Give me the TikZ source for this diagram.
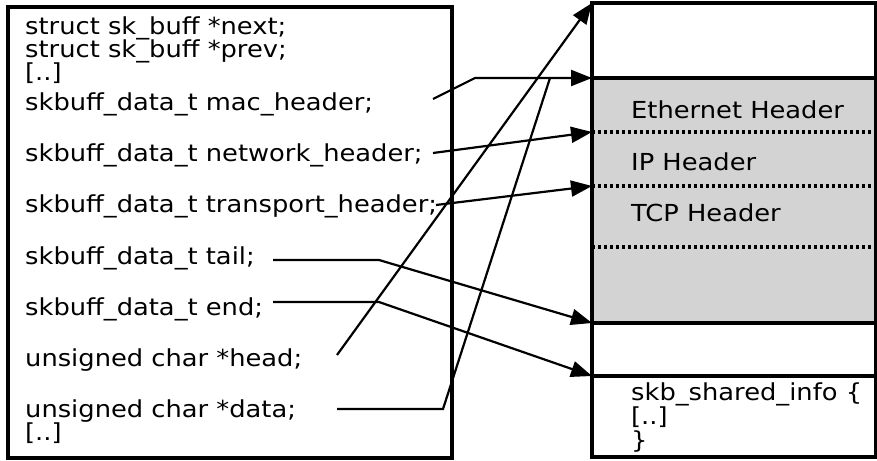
\documentclass[tikz,border=0pt]{standalone}
\usepackage{fontspec}
\setmainfont{DejaVu Sans}[FakeStretch=1.1]
\usetikzlibrary{arrows.meta,positioning,calc}
\definecolor{hdrgray}{HTML}{D3D3D3}
\tikzset{
  field/.style={anchor=base west, inner sep=0pt, font=\fontsize{23.4}{23.4}\selectfont},
  box/.style={draw=black, line width=3.2pt},
  sep/.style={draw=black, line width=3.2pt, dash pattern=on 3pt off 3pt},
  wire/.style={line width=2.2pt},
  link/.style={line width=2.2pt, -{Triangle[length=21pt,width=16pt]}}
}
\begin{document}
\begin{tikzpicture}[x=1pt,y=-1pt]
	\useasboundingbox (0,0) rectangle (877,460);

	% data buffer
	\fill[hdrgray] (592,78) rectangle (876,323);
	\draw[box] (592,3) rectangle (875.5,457);
	\draw[box] (592,78) -- (876,78);
	\draw[sep] (592,132) -- (876,132);
	\draw[sep] (592,186) -- (876,186);
	\draw[sep] (592,247) -- (876,247);
	\draw[box] (592,323) -- (876,323);
	\draw[box] (592,376) -- (876,376);

	\node[field] (eth) at (631,118) {Ethernet Header};
	\node[field] (ip) at (631,170) {IP Header};
	\node[field] (tcp) at (631,221) {TCP Header};
	\node[field] (shinfo) at (631,400) {skb\_shared\_info \{};
	\node[field] (shdots) at (631,424) {[..]};
	\node[field] (shclose) at (631,448) {\}};

	\coordinate (bufhead) at (592,3);
	\coordinate (bufeth) at (592,78);
	\coordinate (bufip) at (592,132);
	\coordinate (buftcp) at (592,186);
	\coordinate (buftail) at (592,323);
	\coordinate (bufend) at (592,376);

	% sk_buff struct
	\draw[box] (8,7) rectangle (452,458);
	\node[field] (next) at (25,35) {struct sk\_buff *next;};
	\node[field] (prev) at (25,58) {struct sk\_buff *prev;};
	\node[field] (skip) at (25,81) {[..]};
	\node[field] (mac) at (25,110) {skbuff\_data\_t mac\_header;};
	\node[field] (net) at (25,161) {skbuff\_data\_t network\_header;};
	\node[field] (trans) at (25,212) {skbuff\_data\_t transport\_header;};
	\node[field] (tail) at (25,264) {skbuff\_data\_t tail;};
	\node[field] (endp) at (25,315) {skbuff\_data\_t end;};
	\node[field] (head) at (25,366) {unsigned char *head;};
	\node[field] (data) at (25,417) {unsigned char *data;};
	\node[field] (skiptwo) at (25,440) {[..]};

	\coordinate (macfrom) at (433,99);
	\coordinate (macbend) at (475,78);
	\coordinate (datajoin) at (550,78);
	\coordinate (netfrom) at (433,153);
	\coordinate (transfrom) at (436,205);
	\coordinate (tailfrom) at (273,260);
	\coordinate (tailbend) at (379,260);
	\coordinate (endfrom) at (273,302);
	\coordinate (endbend) at (379,302);
	\coordinate (headfrom) at (337,355);
	\coordinate (datafrom) at (337,409);
	\coordinate (databend) at (443,409);

	\draw[link] (macfrom) -- (macbend) -- (bufeth);
	\draw[link] (netfrom) -- (bufip);
	\draw[link] (transfrom) -- (buftcp);
	\draw[link] (tailfrom) -- (tailbend) -- (buftail);
	\draw[link] (endfrom) -- (endbend) -- (bufend);
	\draw[link] (headfrom) -- (bufhead);
	\draw[wire] (datafrom) -- (databend) -- (datajoin);
\end{tikzpicture}
\end{document}
